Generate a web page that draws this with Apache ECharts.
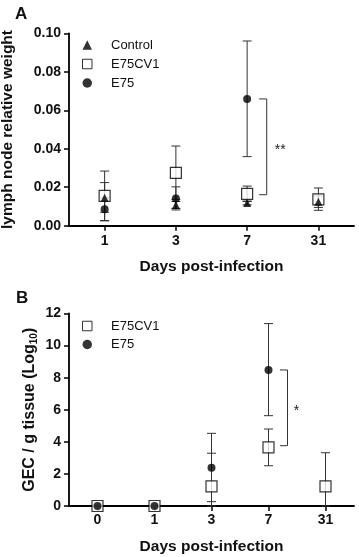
<!DOCTYPE html>
<html>
<head>
<meta charset="utf-8">
<script src="https://cdn.jsdelivr.net/npm/echarts@6/dist/echarts.min.js"></script>
<style>
html,body{margin:0;padding:0;background:#fff;}
#c{width:359px;height:557px;}
</style>
</head>
<body>
<div id="c"></div>
<script>
// ---------- Panel A data ----------
const daysA = ['1', '3', '7', '31'];
const yTicksA = [0, 0.02, 0.04, 0.06, 0.08, 0.10];
const controlA = [0.0145, 0.0108, 0.0118, 0.0125];
const controlALow = [0.0070, 0.0090, 0.0108, 0.0095];
const controlAHigh = [0.0224, 0.0126, 0.0128, 0.0155];
const e75cv1A = [0.0155, 0.0275, 0.0165, 0.0137];
const e75cv1ALow = [0.0027, 0.0137, 0.0126, 0.0080];
const e75cv1AHigh = [0.0284, 0.0414, 0.0206, 0.0196];
const e75A = [0.0085, 0.0142, 0.0659, null];
const e75ALow = [0.0025, 0.0082, 0.0359, null];
const e75AHigh = [0.0145, 0.0202, 0.0960, null];
const bracketA = [2, 0.0659, 0.0161];
const starsA = '**';

// ---------- Panel B data ----------
const daysB = ['0', '1', '3', '7', '31'];
const yTicksB = [0, 2, 4, 6, 8, 10, 12];
const e75cv1B = [0, 0, 1.22, 3.66, 1.22];
const e75cv1BLow = [0, 0, 0, 2.51, 0];
const e75cv1BHigh = [0, 0, 4.53, 4.80, 3.32];
const e75B = [0, 0, 2.39, 8.48, null];
const e75BLow = [0, 0, 0.27, 5.63, null];
const e75BHigh = [0, 0, 3.29, 11.37, null];
const bracketB = [3, 8.48, 3.76];
const starsB = '*';

const FONT = 'Liberation Sans, Arial, sans-serif';

function errData(low, high) {
  const out = [];
  for (let i = 0; i < low.length; i++) {
    if (low[i] == null || high[i] == null) continue;
    out.push([i, low[i], high[i]]);
  }
  return out;
}
function errRender(params, api) {
  const i = api.value(0);
  const lo = api.coord([i, api.value(1)]);
  const hi = api.coord([i, api.value(2)]);
  const w = 4.5;
  const style = { stroke: '#333', lineWidth: 1, fill: null };
  return {
    type: 'group',
    children: [
      { type: 'line', shape: { x1: lo[0], y1: lo[1], x2: hi[0], y2: hi[1] }, style },
      { type: 'line', shape: { x1: hi[0] - w, y1: hi[1], x2: hi[0] + w, y2: hi[1] }, style },
      { type: 'line', shape: { x1: lo[0] - w, y1: lo[1], x2: lo[0] + w, y2: lo[1] }, style }
    ]
  };
}
function bracketRender(label, dxTick, dxLine, dxText) {
  return function (params, api) {
    const i = api.value(0);
    const p1 = api.coord([i, api.value(1)]);
    const p2 = api.coord([i, api.value(2)]);
    const x = p1[0];
    return {
      type: 'group',
      children: [
        { type: 'polyline', shape: { points: [[x + dxTick, p1[1]], [x + dxLine, p1[1]], [x + dxLine, p2[1]], [x + dxTick, p2[1]]] },
          style: { stroke: '#333', lineWidth: 1, fill: null } },
        { type: 'text', x: x + dxText, y: (p1[1] + p2[1]) / 2 + 3,
          style: { text: label, fill: '#222', font: '14px ' + FONT, align: 'center', verticalAlign: 'middle' } }
      ]
    };
  };
}
function mk(arr) { return arr.map((v, i) => v == null ? null : [i, v]); }

const axisLine = { show: true, lineStyle: { color: '#000', width: 1.8 } };
const axisTick = { show: true, length: 5, lineStyle: { color: '#000', width: 1.5 } };
const tickLabel = { color: '#111', fontFamily: FONT, fontWeight: 'bold', fontSize: 14 };
const nameStyle = { color: '#111', fontFamily: FONT, fontWeight: 'bold', fontSize: 15.5 };

const squareStyle = { color: '#fff', borderColor: '#000', borderWidth: 1.2 };
const blackStyle = { color: '#000' };
const legendText = { fontFamily: FONT, fontSize: 13, color: '#111', lineHeight: 13, padding: [0, 0, 0, 14] };

const chart = echarts.init(document.getElementById('c'));
chart.setOption({
  animation: false,
  backgroundColor: '#fff',
  title: [
    { text: 'A', left: 10, top: 1, textStyle: { fontFamily: FONT, fontWeight: 'bold', fontSize: 17, color: '#111' } },
    { text: 'B', left: 11, top: 285, textStyle: { fontFamily: FONT, fontWeight: 'bold', fontSize: 17, color: '#111' } }
  ],
  legend: [
    { orient: 'vertical', left: 82, top: 38.5, padding: 0, itemGap: 6, itemWidth: 9.5, itemHeight: 9.5,
      textStyle: legendText, itemStyle: { borderWidth: 1 },
      data: [{ name: 'Control', icon: 'triangle' }, { name: 'E75CV1', icon: 'rect' }, { name: 'E75', icon: 'circle' }],
      selectedMode: false },
    { orient: 'vertical', left: 82, top: 319.5, padding: 0, itemGap: 5.5, itemWidth: 9.5, itemHeight: 9.5,
      textStyle: legendText, itemStyle: { borderWidth: 1 },
      data: [{ name: 'E75CV1', icon: 'rect' }, { name: 'E75', icon: 'circle' }],
      selectedMode: false }
  ],
  grid: [
    { left: 69, right: 5, top: 33.3, height: 192.4, containLabel: false, outerBoundsMode: 'none' },
    { left: 69, right: 5, top: 313.5, height: 192.5, containLabel: false, outerBoundsMode: 'none' }
  ],
  xAxis: [
    { type: 'category', gridIndex: 0, data: daysA, boundaryGap: true,
      axisLine, axisTick: Object.assign({ alignWithLabel: true }, axisTick),
      axisLabel: Object.assign({ margin: 8 }, tickLabel),
      name: 'Days post-infection', nameLocation: 'middle', nameGap: 33, nameTextStyle: nameStyle },
    { type: 'category', gridIndex: 1, data: daysB, boundaryGap: true,
      axisLine, axisTick: Object.assign({ alignWithLabel: true }, axisTick),
      axisLabel: Object.assign({ margin: 7 }, tickLabel),
      name: 'Days post-infection', nameLocation: 'middle', nameGap: 33, nameTextStyle: nameStyle }
  ],
  yAxis: [
    { type: 'value', gridIndex: 0, min: yTicksA[0], max: yTicksA[yTicksA.length - 1], interval: 0.02,
      axisLine, axisTick, splitLine: { show: false },
      axisLabel: Object.assign({ margin: 8, formatter: v => v.toFixed(2) }, tickLabel),
      name: 'lymph node relative weight', nameLocation: 'middle', nameGap: 53, nameRotate: 90, nameMoveOverlap: false,
      nameTextStyle: nameStyle },
    { type: 'value', gridIndex: 1, min: yTicksB[0], max: yTicksB[yTicksB.length - 1], interval: 2,
      axisLine, axisTick, splitLine: { show: false },
      axisLabel: Object.assign({ margin: 8 }, tickLabel),
      name: '{n|GEC / g tissue (Log}{s|10}{n|)}', nameLocation: 'middle', nameGap: 30, nameRotate: 90, nameMoveOverlap: false,
      nameTextStyle: Object.assign({}, nameStyle, { fontSize: 16, rich: {
        n: { fontFamily: FONT, fontWeight: 'bold', fontSize: 16, color: '#111' },
        s: { fontFamily: FONT, fontWeight: 'bold', fontSize: 10, color: '#111', verticalAlign: 'bottom', padding: [8, 0, 0, 0] }
      } }) }
  ],
  series: [
    // Panel A error bars
    { type: 'custom', xAxisIndex: 0, yAxisIndex: 0, renderItem: errRender, data: errData(e75cv1ALow, e75cv1AHigh), z: 1, silent: true },
    { type: 'custom', xAxisIndex: 0, yAxisIndex: 0, renderItem: errRender, data: errData(controlALow, controlAHigh), z: 1, silent: true },
    { type: 'custom', xAxisIndex: 0, yAxisIndex: 0, renderItem: errRender, data: errData(e75ALow, e75AHigh), z: 1, silent: true },
    { type: 'custom', xAxisIndex: 0, yAxisIndex: 0, renderItem: bracketRender(starsA, 12, 19.6, 33), data: [bracketA], z: 1, silent: true },
    // Panel A markers
    { name: 'E75CV1', type: 'scatter', xAxisIndex: 0, yAxisIndex: 0, symbol: 'rect', symbolSize: 11, itemStyle: squareStyle, data: mk(e75cv1A), z: 3 },
    { name: 'Control', type: 'scatter', xAxisIndex: 0, yAxisIndex: 0, symbol: 'triangle', symbolSize: 8, itemStyle: blackStyle, data: mk(controlA), z: 4 },
    { name: 'E75', type: 'scatter', xAxisIndex: 0, yAxisIndex: 0, symbol: 'circle', symbolSize: 8, itemStyle: blackStyle, data: mk(e75A), z: 4 },
    // Panel B error bars
    { type: 'custom', xAxisIndex: 1, yAxisIndex: 1, renderItem: errRender, data: errData(e75cv1BLow, e75cv1BHigh), z: 1, silent: true },
    { type: 'custom', xAxisIndex: 1, yAxisIndex: 1, renderItem: errRender, data: errData(e75BLow, e75BHigh), z: 1, silent: true },
    { type: 'custom', xAxisIndex: 1, yAxisIndex: 1, renderItem: bracketRender(starsB, 11.5, 19, 28), data: [bracketB], z: 1, silent: true },
    // Panel B markers
    { name: 'E75CV1', type: 'scatter', xAxisIndex: 1, yAxisIndex: 1, symbol: 'rect', symbolSize: 11, itemStyle: squareStyle, data: mk(e75cv1B), z: 3 },
    { name: 'E75', type: 'scatter', xAxisIndex: 1, yAxisIndex: 1, symbol: 'circle', symbolSize: 8, itemStyle: blackStyle, data: mk(e75B), z: 4 }
  ]
});
</script>
</body>
</html>
